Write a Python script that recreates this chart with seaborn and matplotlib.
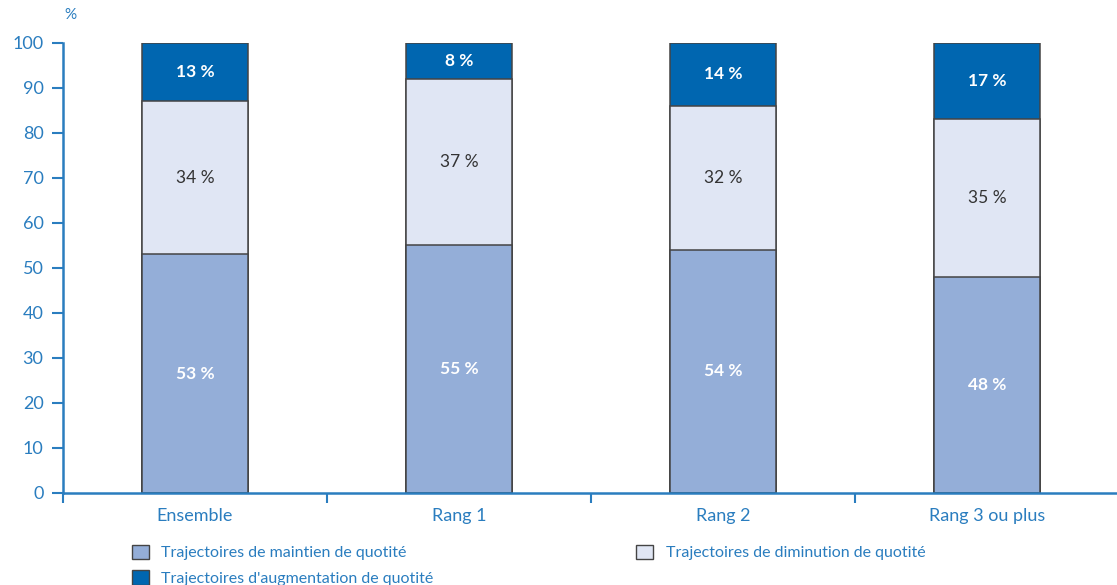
import matplotlib
matplotlib.use("Agg")
import matplotlib.pyplot as plt
import seaborn as sns
import pandas as pd
import numpy as np
from matplotlib.patches import Patch

categories = ["Ensemble", "Rang 1", "Rang 2", "Rang 3 ou plus"]
maintien = [53, 55, 54, 48]
diminution = [34, 37, 32, 35]
augmentation = [13, 8, 14, 17]
series_names = ["Trajectoires de maintien de quotité",
                "Trajectoires de diminution de quotité",
                "Trajectoires d'augmentation de quotité"]
yticks = [0, 10, 20, 30, 40, 50, 60, 70, 80, 90, 100]

c_main = "#94AED8"
c_dim = "#E0E6F4"
c_aug = "#0066B0"
axcol = "#2A7DBF"
edge = "#444444"

sns.set_theme(style="white")
plt.rcParams["font.family"] = ["Lato", "DejaVu Sans"]

fig = plt.figure(figsize=(11.17, 5.85), dpi=100)
ax = fig.add_axes([0.0564, 0.1573, 0.9456, 0.7692])

df = pd.DataFrame({"cat": categories, "m": maintien, "d": diminution, "a": augmentation})
df["md"] = df["m"] + df["d"]
df["mda"] = df["md"] + df["a"]

for col, color in [("mda", c_aug), ("md", c_dim), ("m", c_main)]:
    sns.barplot(data=df, x="cat", y=col, color=color, width=0.4, saturation=1,
                edgecolor=edge, linewidth=1.1, ax=ax, order=categories)

for i in range(len(categories)):
    m, d, a = maintien[i], diminution[i], augmentation[i]
    ax.text(i, m / 2, f"{m} %", ha="center", va="center", color="white",
            fontsize=12.5, fontweight="bold")
    ax.text(i, m + d / 2, f"{d} %", ha="center", va="center", color="#333333",
            fontsize=12.5)
    ax.text(i, m + d + a / 2, f"{a} %", ha="center", va="center", color="white",
            fontsize=12.5, fontweight="bold")

ax.set_xlim(-0.5, 3.5)
ax.set_ylim(0, 100)
ax.set_yticks(yticks)
ax.set_yticklabels([str(v) for v in yticks], color=axcol, fontsize=13)
ax.set_xlabel("")
ax.set_ylabel("")
ax.set_xticks(range(len(categories)))
ax.set_xticklabels(categories, color=axcol, fontsize=13)
ax.tick_params(axis="x", length=0, pad=11)
ax.tick_params(axis="y", length=8, width=1.5, color=axcol, left=True, pad=6)
# separator ticks between categories
ax.set_xticks([0.5, 1.5, 2.5, -0.5], minor=True)
ax.tick_params(axis="x", which="minor", bottom=True, length=7, width=1.5, color=axcol, direction="out")

for s in ["top", "right"]:
    ax.spines[s].set_visible(False)
for s in ["left", "bottom"]:
    ax.spines[s].set_color(axcol)
    ax.spines[s].set_linewidth(1.8)
ax.grid(False)

fig.text(0.058, 0.962, "%", color=axcol, fontsize=11, ha="left", va="bottom")

handles = [Patch(facecolor=c_main, edgecolor=edge, label=series_names[0]),
           Patch(facecolor=c_aug, edgecolor=edge, label=series_names[2]),
           Patch(facecolor=c_dim, edgecolor=edge, label=series_names[1])]
leg = fig.legend(handles=handles, ncol=2, loc="upper left", bbox_to_anchor=(0.118, 0.069),
                 frameon=False, fontsize=11.5, handlelength=1.05, handleheight=1.05,
                 columnspacing=12.7, labelspacing=0.6, handletextpad=0.8,
                 borderaxespad=0, borderpad=0)
for t in leg.get_texts():
    t.set_color(axcol)

fig.savefig("out.png", dpi=100)
